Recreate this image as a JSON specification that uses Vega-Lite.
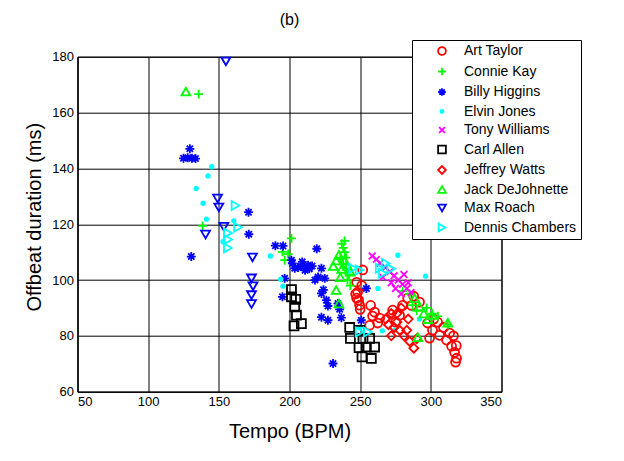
{
  "$schema": "https://vega.github.io/schema/vega-lite/v6.json",
  "width": 424,
  "height": 335,
  "autosize": "none",
  "padding": {"left": 77.5, "top": 56.7, "right": 122.5, "bottom": 69.3},
  "background": "white",
  "title": {"text": "(b)", "fontSize": 16, "fontWeight": "normal", "font": "Liberation Sans", "color": "black", "offset": 12},
  "data": {
    "values": [
      {"d": "Art Taylor", "t": 247.5, "o": 99.2}, {"d": "Art Taylor", "t": 248.2, "o": 95.6}, {"d": "Art Taylor", "t": 247.5, "o": 93.5},
      {"d": "Art Taylor", "t": 249.6, "o": 91}, {"d": "Art Taylor", "t": 251.8, "o": 103.6}, {"d": "Art Taylor", "t": 251.1, "o": 98},
      {"d": "Art Taylor", "t": 246.8, "o": 95}, {"d": "Art Taylor", "t": 248.9, "o": 92.8}, {"d": "Art Taylor", "t": 250, "o": 89.5},
      {"d": "Art Taylor", "t": 257.4, "o": 90.9}, {"d": "Art Taylor", "t": 258.8, "o": 87.1}, {"d": "Art Taylor", "t": 256.7, "o": 83.8},
      {"d": "Art Taylor", "t": 262.4, "o": 84.6}, {"d": "Art Taylor", "t": 260.2, "o": 88.5}, {"d": "Art Taylor", "t": 263.8, "o": 86.4},
      {"d": "Art Taylor", "t": 273, "o": 89.2}, {"d": "Art Taylor", "t": 277.9, "o": 87.4}, {"d": "Art Taylor", "t": 275.1, "o": 84.9},
      {"d": "Art Taylor", "t": 280, "o": 90.9}, {"d": "Art Taylor", "t": 283.6, "o": 93.5}, {"d": "Art Taylor", "t": 287.9, "o": 94.2},
      {"d": "Art Taylor", "t": 292, "o": 92.1}, {"d": "Art Taylor", "t": 286.4, "o": 90.9}, {"d": "Art Taylor", "t": 297.7, "o": 84.6},
      {"d": "Art Taylor", "t": 301.2, "o": 82}, {"d": "Art Taylor", "t": 304.8, "o": 84.9}, {"d": "Art Taylor", "t": 299.1, "o": 79.2},
      {"d": "Art Taylor", "t": 306.2, "o": 80.2}, {"d": "Art Taylor", "t": 311.1, "o": 78.5}, {"d": "Art Taylor", "t": 314.7, "o": 76.3},
      {"d": "Art Taylor", "t": 316.8, "o": 74.1}, {"d": "Art Taylor", "t": 318.2, "o": 72}, {"d": "Art Taylor", "t": 317.5, "o": 70.6},
      {"d": "Art Taylor", "t": 313.3, "o": 81}, {"d": "Art Taylor", "t": 309, "o": 83}, {"d": "Art Taylor", "t": 316, "o": 80},
      {"d": "Art Taylor", "t": 318, "o": 76.5}, {"d": "Art Taylor", "t": 302, "o": 86},

      {"d": "Connie Kay", "t": 135.7, "o": 166.6}, {"d": "Connie Kay", "t": 138.5, "o": 119.4}, {"d": "Connie Kay", "t": 201.4, "o": 114.9},
      {"d": "Connie Kay", "t": 195, "o": 110.1}, {"d": "Connie Kay", "t": 199, "o": 109.3}, {"d": "Connie Kay", "t": 196.6, "o": 107.1},
      {"d": "Connie Kay", "t": 237, "o": 113}, {"d": "Connie Kay", "t": 239, "o": 114}, {"d": "Connie Kay", "t": 238, "o": 111.5},
      {"d": "Connie Kay", "t": 239, "o": 110}, {"d": "Connie Kay", "t": 240, "o": 108}, {"d": "Connie Kay", "t": 238, "o": 106},
      {"d": "Connie Kay", "t": 240, "o": 104}, {"d": "Connie Kay", "t": 242, "o": 102}, {"d": "Connie Kay", "t": 241, "o": 100},
      {"d": "Connie Kay", "t": 243, "o": 98}, {"d": "Connie Kay", "t": 236, "o": 108}, {"d": "Connie Kay", "t": 280, "o": 96},
      {"d": "Connie Kay", "t": 285, "o": 95}, {"d": "Connie Kay", "t": 287, "o": 91}, {"d": "Connie Kay", "t": 290, "o": 89},
      {"d": "Connie Kay", "t": 297, "o": 90}, {"d": "Connie Kay", "t": 301, "o": 88}, {"d": "Connie Kay", "t": 305, "o": 87},
      {"d": "Connie Kay", "t": 312, "o": 84},

      {"d": "Billy Higgins", "t": 129.5, "o": 147}, {"d": "Billy Higgins", "t": 125, "o": 143.6}, {"d": "Billy Higgins", "t": 128, "o": 143.8},
      {"d": "Billy Higgins", "t": 131, "o": 143.6}, {"d": "Billy Higgins", "t": 133.5, "o": 143.5}, {"d": "Billy Higgins", "t": 130.5, "o": 108.4},
      {"d": "Billy Higgins", "t": 171, "o": 124.3}, {"d": "Billy Higgins", "t": 171.2, "o": 116.4}, {"d": "Billy Higgins", "t": 190, "o": 112.3},
      {"d": "Billy Higgins", "t": 195.4, "o": 112.2}, {"d": "Billy Higgins", "t": 201.4, "o": 107.1}, {"d": "Billy Higgins", "t": 203.7, "o": 104.2},
      {"d": "Billy Higgins", "t": 206, "o": 104.5}, {"d": "Billy Higgins", "t": 208.4, "o": 104.8}, {"d": "Billy Higgins", "t": 213.1, "o": 105.3},
      {"d": "Billy Higgins", "t": 216, "o": 105}, {"d": "Billy Higgins", "t": 219.3, "o": 111.2}, {"d": "Billy Higgins", "t": 222.6, "o": 104.2},
      {"d": "Billy Higgins", "t": 220.2, "o": 101.1}, {"d": "Billy Higgins", "t": 224.9, "o": 100.6}, {"d": "Billy Higgins", "t": 222.6, "o": 95.2},
      {"d": "Billy Higgins", "t": 224, "o": 96.5}, {"d": "Billy Higgins", "t": 226.1, "o": 92.8}, {"d": "Billy Higgins", "t": 227.2, "o": 90.7},
      {"d": "Billy Higgins", "t": 222.6, "o": 86.7}, {"d": "Billy Higgins", "t": 227.2, "o": 85.6}, {"d": "Billy Higgins", "t": 234.3, "o": 91.6},
      {"d": "Billy Higgins", "t": 235.5, "o": 89.5}, {"d": "Billy Higgins", "t": 236.7, "o": 86.5}, {"d": "Billy Higgins", "t": 196.6, "o": 100.6},
      {"d": "Billy Higgins", "t": 195, "o": 94}, {"d": "Billy Higgins", "t": 230.8, "o": 70.1}, {"d": "Billy Higgins", "t": 254.4, "o": 97},
      {"d": "Billy Higgins", "t": 250.8, "o": 85.6}, {"d": "Billy Higgins", "t": 218, "o": 100}, {"d": "Billy Higgins", "t": 214, "o": 104},
      {"d": "Billy Higgins", "t": 202, "o": 106}, {"d": "Billy Higgins", "t": 209, "o": 106.5}, {"d": "Billy Higgins", "t": 211, "o": 103.5},

      {"d": "Elvin Jones", "t": 145, "o": 140.6}, {"d": "Elvin Jones", "t": 142.4, "o": 137.3}, {"d": "Elvin Jones", "t": 134, "o": 132.8},
      {"d": "Elvin Jones", "t": 138.9, "o": 127.5}, {"d": "Elvin Jones", "t": 141.3, "o": 121.8}, {"d": "Elvin Jones", "t": 160.6, "o": 121.2},
      {"d": "Elvin Jones", "t": 153, "o": 113.7}, {"d": "Elvin Jones", "t": 186.5, "o": 108.6}, {"d": "Elvin Jones", "t": 193.8, "o": 100.3},
      {"d": "Elvin Jones", "t": 195.4, "o": 97.8}, {"d": "Elvin Jones", "t": 265.7, "o": 81.8}, {"d": "Elvin Jones", "t": 274.4, "o": 82},
      {"d": "Elvin Jones", "t": 276.7, "o": 108.9}, {"d": "Elvin Jones", "t": 296.3, "o": 101.4}, {"d": "Elvin Jones", "t": 262.6, "o": 97},
      {"d": "Elvin Jones", "t": 292, "o": 86}, {"d": "Elvin Jones", "t": 250, "o": 83},

      {"d": "Tony Williams", "t": 258.5, "o": 108.6}, {"d": "Tony Williams", "t": 261.5, "o": 107.4}, {"d": "Tony Williams", "t": 264, "o": 106},
      {"d": "Tony Williams", "t": 268, "o": 104.5}, {"d": "Tony Williams", "t": 271, "o": 103}, {"d": "Tony Williams", "t": 274, "o": 101.5},
      {"d": "Tony Williams", "t": 277, "o": 100}, {"d": "Tony Williams", "t": 280, "o": 98.5}, {"d": "Tony Williams", "t": 283, "o": 97},
      {"d": "Tony Williams", "t": 286, "o": 95.5}, {"d": "Tony Williams", "t": 275, "o": 97}, {"d": "Tony Williams", "t": 279, "o": 95},
      {"d": "Tony Williams", "t": 272, "o": 99}, {"d": "Tony Williams", "t": 284, "o": 99}, {"d": "Tony Williams", "t": 281, "o": 102},
      {"d": "Tony Williams", "t": 266, "o": 101},

      {"d": "Carl Allen", "t": 201.4, "o": 96.6}, {"d": "Carl Allen", "t": 201.4, "o": 94}, {"d": "Carl Allen", "t": 204.4, "o": 93.1},
      {"d": "Carl Allen", "t": 203.7, "o": 90.4}, {"d": "Carl Allen", "t": 204.9, "o": 87.4}, {"d": "Carl Allen", "t": 208.4, "o": 84.4},
      {"d": "Carl Allen", "t": 203.2, "o": 83.6}, {"d": "Carl Allen", "t": 242.6, "o": 83}, {"d": "Carl Allen", "t": 243.1, "o": 79.1},
      {"d": "Carl Allen", "t": 249.6, "o": 82}, {"d": "Carl Allen", "t": 249.2, "o": 75.8}, {"d": "Carl Allen", "t": 251.3, "o": 72.5},
      {"d": "Carl Allen", "t": 257.9, "o": 71.9}, {"d": "Carl Allen", "t": 254.4, "o": 76}, {"d": "Carl Allen", "t": 260.2, "o": 76},
      {"d": "Carl Allen", "t": 256.7, "o": 79.1}, {"d": "Carl Allen", "t": 252, "o": 79.1},

      {"d": "Jeffrey Watts", "t": 268, "o": 86}, {"d": "Jeffrey Watts", "t": 270, "o": 84}, {"d": "Jeffrey Watts", "t": 272, "o": 88},
      {"d": "Jeffrey Watts", "t": 274, "o": 83}, {"d": "Jeffrey Watts", "t": 276, "o": 85}, {"d": "Jeffrey Watts", "t": 278, "o": 82},
      {"d": "Jeffrey Watts", "t": 281, "o": 80}, {"d": "Jeffrey Watts", "t": 283, "o": 82}, {"d": "Jeffrey Watts", "t": 285, "o": 78},
      {"d": "Jeffrey Watts", "t": 288, "o": 75.6}, {"d": "Jeffrey Watts", "t": 290, "o": 79}, {"d": "Jeffrey Watts", "t": 276, "o": 88},
      {"d": "Jeffrey Watts", "t": 279, "o": 90}, {"d": "Jeffrey Watts", "t": 284, "o": 86}, {"d": "Jeffrey Watts", "t": 272, "o": 80},

      {"d": "Jack DeJohnette", "t": 126.7, "o": 167.5}, {"d": "Jack DeJohnette", "t": 231, "o": 105}, {"d": "Jack DeJohnette", "t": 233, "o": 107},
      {"d": "Jack DeJohnette", "t": 235, "o": 109}, {"d": "Jack DeJohnette", "t": 237, "o": 104}, {"d": "Jack DeJohnette", "t": 239, "o": 107},
      {"d": "Jack DeJohnette", "t": 241, "o": 105}, {"d": "Jack DeJohnette", "t": 236, "o": 101}, {"d": "Jack DeJohnette", "t": 233, "o": 96.4},
      {"d": "Jack DeJohnette", "t": 235, "o": 91.6}, {"d": "Jack DeJohnette", "t": 243, "o": 103}, {"d": "Jack DeJohnette", "t": 288.5, "o": 93.5},
      {"d": "Jack DeJohnette", "t": 292, "o": 90.5}, {"d": "Jack DeJohnette", "t": 295, "o": 88}, {"d": "Jack DeJohnette", "t": 298, "o": 86},
      {"d": "Jack DeJohnette", "t": 301, "o": 87.5}, {"d": "Jack DeJohnette", "t": 312, "o": 84.7}, {"d": "Jack DeJohnette", "t": 290.8, "o": 79.5},

      {"d": "Max Roach", "t": 155, "o": 178.3}, {"d": "Max Roach", "t": 149.1, "o": 129.2}, {"d": "Max Roach", "t": 150, "o": 126},
      {"d": "Max Roach", "t": 153.5, "o": 119.1}, {"d": "Max Roach", "t": 140.6, "o": 116.3}, {"d": "Max Roach", "t": 173.8, "o": 108.1},
      {"d": "Max Roach", "t": 173.1, "o": 100.6}, {"d": "Max Roach", "t": 174.2, "o": 97.8}, {"d": "Max Roach", "t": 173.1, "o": 94.6},
      {"d": "Max Roach", "t": 173.1, "o": 91.4},

      {"d": "Dennis Chambers", "t": 161.8, "o": 126.7}, {"d": "Dennis Chambers", "t": 163.6, "o": 118.9}, {"d": "Dennis Chambers", "t": 156.4, "o": 116.8},
      {"d": "Dennis Chambers", "t": 156.6, "o": 114.5}, {"d": "Dennis Chambers", "t": 156.4, "o": 111.5}, {"d": "Dennis Chambers", "t": 244.9, "o": 104.2},
      {"d": "Dennis Chambers", "t": 249.6, "o": 103.6}, {"d": "Dennis Chambers", "t": 263.8, "o": 104.2}, {"d": "Dennis Chambers", "t": 266.1, "o": 102.4},
      {"d": "Dennis Chambers", "t": 268, "o": 106}, {"d": "Dennis Chambers", "t": 272, "o": 104}, {"d": "Dennis Chambers", "t": 249.6, "o": 81.4},
      {"d": "Dennis Chambers", "t": 255.5, "o": 81.4}
    ]
  },
  "mark": {"type": "point", "filled": false, "size": 80, "strokeWidth": 1.8, "opacity": 1},
  "encoding": {
    "x": {
      "field": "t", "type": "quantitative", "title": "Tempo (BPM)",
      "scale": {"domain": [50, 350], "nice": false, "zero": false},
      "axis": {"values": [50, 100, 150, 200, 250, 300, 350], "titleX": 212, "titleY": 45.5, "titleBaseline": "alphabetic"}
    },
    "y": {
      "field": "o", "type": "quantitative", "title": "Offbeat duration (ms)",
      "scale": {"domain": [60, 180], "nice": false, "zero": false},
      "axis": {"values": [60, 80, 100, 120, 140, 160, 180], "titleX": -37.5, "titleY": 160, "titleBaseline": "alphabetic", "titleAngle": -90, "titleAlign": "center"}
    },
    "stroke": {
      "field": "d", "type": "nominal",
      "scale": {
        "domain": ["Art Taylor", "Connie Kay", "Billy Higgins", "Elvin Jones", "Tony Williams", "Carl Allen", "Jeffrey Watts", "Jack DeJohnette", "Max Roach", "Dennis Chambers"],
        "range": ["#ff0000", "#00ff00", "#0000ff", "#00ffff", "#ff00ff", "#000000", "#ff0000", "#00ff00", "#0000ff", "#00ffff"]
      },
      "legend": {"title": null}
    },
    "fill": {
      "field": "d", "type": "nominal",
      "scale": {
        "domain": ["Art Taylor", "Connie Kay", "Billy Higgins", "Elvin Jones", "Tony Williams", "Carl Allen", "Jeffrey Watts", "Jack DeJohnette", "Max Roach", "Dennis Chambers"],
        "range": ["transparent", "transparent", "transparent", "#00ffff", "transparent", "transparent", "transparent", "transparent", "transparent", "transparent"]
      },
      "legend": {"title": null}
    },
    "shape": {
      "field": "d", "type": "nominal",
      "scale": {
        "domain": ["Art Taylor", "Connie Kay", "Billy Higgins", "Elvin Jones", "Tony Williams", "Carl Allen", "Jeffrey Watts", "Jack DeJohnette", "Max Roach", "Dennis Chambers"],
        "range": [
          "circle",
          "M-1,0L1,0M0,-1L0,1",
          "M-1,0L1,0M0,-1L0,1M-0.7,-0.7L0.7,0.7M-0.7,0.7L0.7,-0.7",
          "M-0.4,0A0.4,0.4,0,1,0,0.4,0A0.4,0.4,0,1,0,-0.4,0Z",
          "M-0.75,-0.75L0.75,0.75M-0.75,0.75L0.75,-0.75",
          "square",
          "diamond",
          "triangle-up",
          "triangle-down",
          "triangle-right"
        ]
      },
      "legend": {"title": null}
    }
  },
  "config": {
    "font": "Liberation Sans",
    "view": {"stroke": "black", "strokeWidth": 1},
    "axis": {
      "labelFont": "Liberation Sans", "labelFontSize": 13, "labelColor": "black",
      "titleFont": "Liberation Sans", "titleFontSize": 20, "titleFontWeight": "normal", "titleColor": "black",
      "domainColor": "black", "domainWidth": 1,
      "grid": true, "gridColor": "black", "gridOpacity": 1, "gridWidth": 1,
      "ticks": false, "tickSize": 0, "labelPadding": 4
    },
    "legend": {
      "orient": "none", "legendX": 334.5, "legendY": -16.7,
      "padding": 4, "symbolOffset": 19, "labelOffset": 15,
      "strokeColor": "black", "fillColor": "white",
      "labelFont": "Liberation Sans", "labelFontSize": 14, "labelColor": "black",
      "symbolSize": 60, "symbolStrokeWidth": 1.8, "rowPadding": 4.5, "labelLimit": 300
    }
  }
}
